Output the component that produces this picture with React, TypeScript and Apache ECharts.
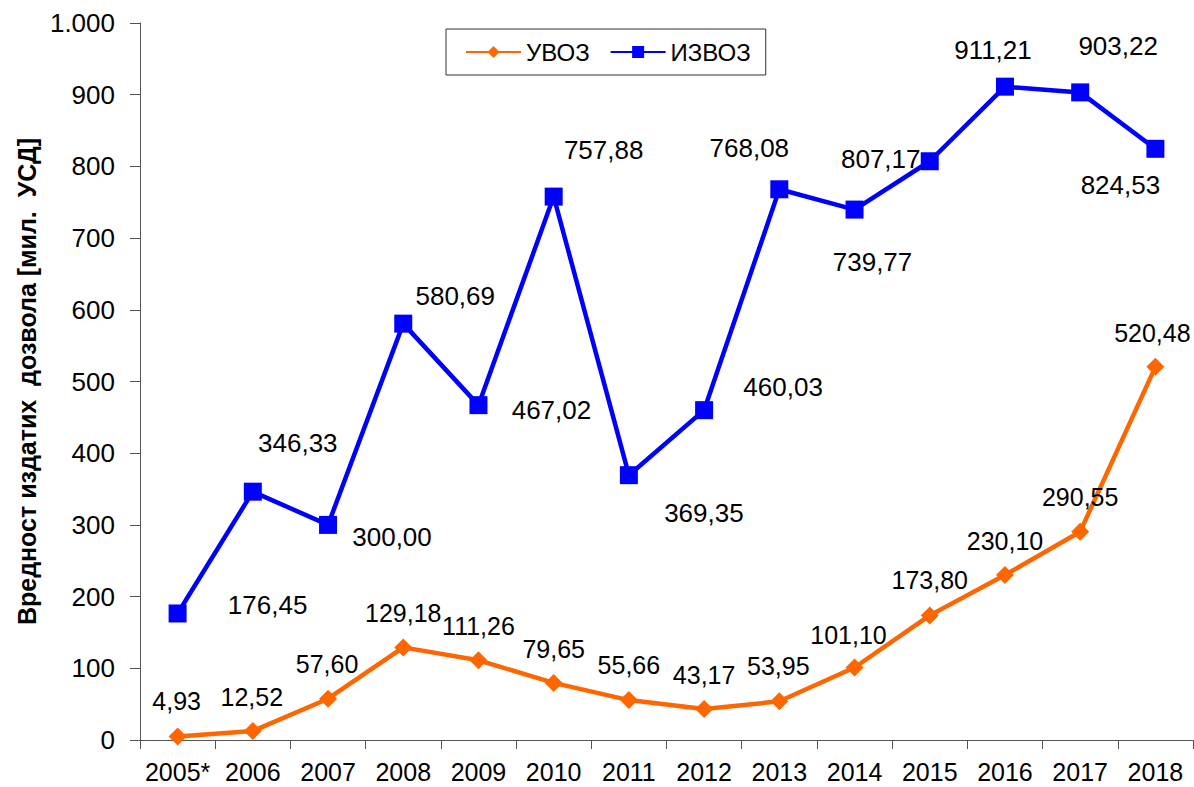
import React, { useEffect, useRef } from "react";
import * as echarts from "echarts";

const years = ["2005*", "2006", "2007", "2008", "2009", "2010", "2011", "2012", "2013", "2014", "2015", "2016", "2017", "2018"];
const uvoz = [4.93, 12.52, 57.6, 129.18, 111.26, 79.65, 55.66, 43.17, 53.95, 101.1, 173.8, 230.1, 290.55, 520.48];
const izvoz = [176.45, 346.33, 300.0, 580.69, 467.02, 757.88, 369.35, 460.03, 768.08, 739.77, 807.17, 911.21, 903.22, 824.53];
const yTicks = [0, 100, 200, 300, 400, 500, 600, 700, 800, 900, 1000];

// label offsets (style only)
const izvozLabelOffsets: [number, number][] = [
  [90, -8], [45, -49], [64, 12], [52, -28], [73, 5], [50, -47], [75, 38],
  [79, -23], [-30, -41], [18, 52], [-49, -2], [-12, -37], [38, -46], [-35, 36],
];
const uvozLabelOffsets: [number, number][] = [
  [-1, -35], [-1, -34], [-1, -35], [0, -34], [0, -34], [0, -34], [0, -35],
  [0, -34], [-1, -35], [-6, -33], [0, -35], [0, -34], [0, -35], [-3, -34],
];

const FONT = "'Liberation Sans', Arial, sans-serif";
const fmt = (v: number) => v.toFixed(2).replace(".", ",");

export default function App() {
  const ref = useRef<HTMLDivElement>(null);
  useEffect(() => {
    if (!ref.current) return;
    const chart = echarts.init(ref.current, null, { renderer: "svg" });
    const mk = (vals: number[], offs: [number, number][]) =>
      vals.map((v, i) => ({
        value: v,
        label: { offset: offs[i] },
      }));
    chart.setOption({
      animation: false,
      backgroundColor: "#ffffff",
      textStyle: { fontFamily: FONT },
      grid: { left: 140, right: 1, top: 23, bottom: 47, containLabel: false },
      legend: {
        left: 446,
        top: 29,
        orient: "horizontal",
        padding: [11, 15, 11, 19],
        itemGap: 20,
        itemWidth: 55,
        itemHeight: 15,
        borderColor: "#333333",
        borderWidth: 1,
        textStyle: { fontFamily: FONT, fontSize: 24, color: "#000000" },
        data: ["УВОЗ", "ИЗВОЗ"],
      },
      xAxis: {
        type: "category",
        data: years,
        boundaryGap: true,
        axisLine: { lineStyle: { color: "#555555", width: 1 } },
        axisTick: { show: true, length: 9, inside: false, lineStyle: { color: "#555555" } },
        axisLabel: { fontFamily: FONT, fontSize: 25, color: "#000000", margin: 19, interval: 0 },
        splitLine: { show: false },
      },
      yAxis: {
        type: "value",
        min: yTicks[0],
        max: yTicks[yTicks.length - 1],
        interval: 100,
        name: "Вредност издатих  дозвола [мил.  УСД]",
        nameLocation: "middle",
        nameGap: 100,
        nameRotate: 90,
        nameTextStyle: { fontFamily: FONT, fontSize: 25, fontWeight: "bold", color: "#000000" },
        axisLine: { show: true, lineStyle: { color: "#555555", width: 1 } },
        axisTick: { show: true, length: 10, inside: false, lineStyle: { color: "#555555" } },
        axisLabel: {
          fontFamily: FONT,
          fontSize: 26,
          color: "#000000",
          margin: 25,
          formatter: (v: number) => (v >= 1000 ? v.toLocaleString("de-DE") : String(v)),
        },
        splitLine: { show: false },
      },
      series: [
        {
          name: "УВОЗ",
          type: "line",
          data: mk(uvoz, uvozLabelOffsets),
          symbol: "diamond",
          symbolSize: 18,
          itemStyle: { color: "#FF6600" },
          lineStyle: { color: "#FF6600", width: 4.5 },
          label: {
            show: true,
            position: "inside",
            fontFamily: FONT,
            fontSize: 25,
            color: "#000000",
            formatter: (p: any) => fmt(p.value),
          },
          z: 3,
        },
        {
          name: "ИЗВОЗ",
          type: "line",
          data: mk(izvoz, izvozLabelOffsets),
          symbol: "rect",
          symbolSize: 18,
          itemStyle: { color: "#0000FF" },
          lineStyle: { color: "#0000FF", width: 4.5 },
          label: {
            show: true,
            position: "inside",
            fontFamily: FONT,
            fontSize: 26,
            color: "#000000",
            formatter: (p: any) => fmt(p.value),
          },
          z: 2,
        },
      ],
    });
    return () => chart.dispose();
  }, []);
  return (
    <div
      ref={ref}
      style={{ position: "absolute", left: 0, top: 0, width: 1194, height: 787, background: "#fff" }}
    />
  );
}
